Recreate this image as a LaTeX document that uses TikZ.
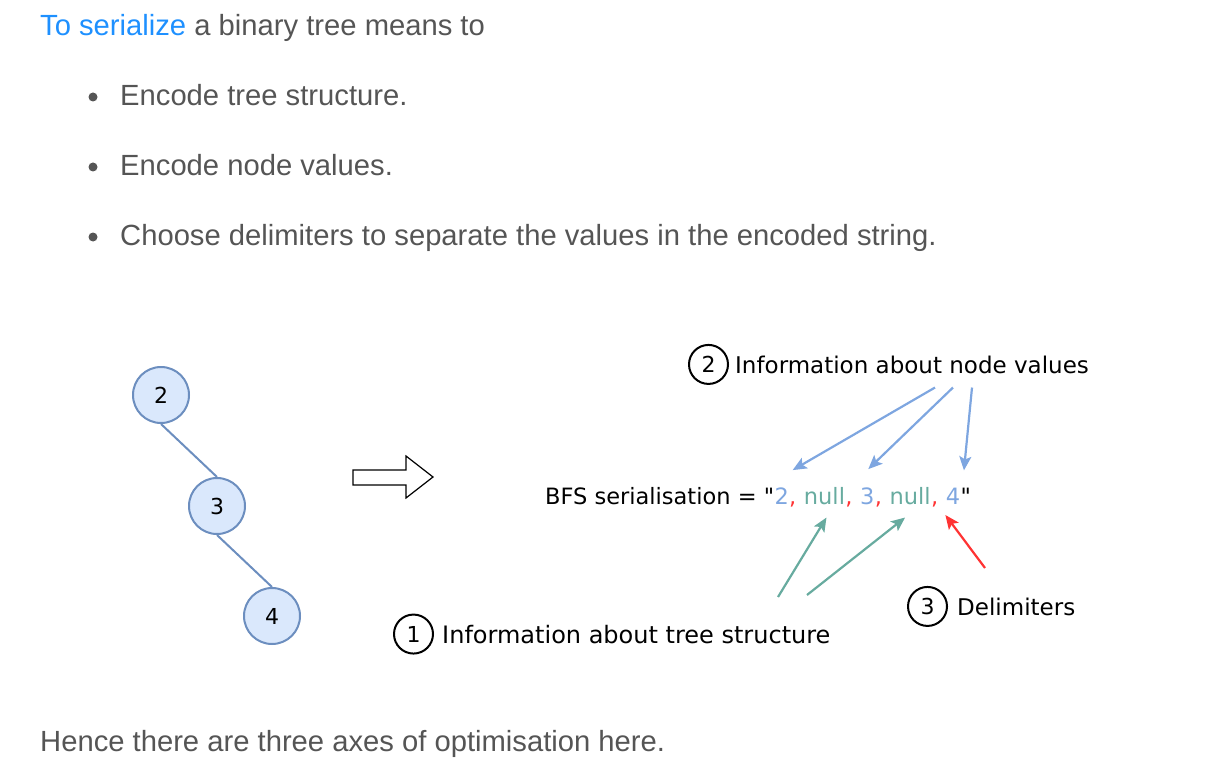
\documentclass[tikz,border=0pt]{standalone}
\usepackage{fontspec}
\setmainfont{Liberation Sans}
\newfontfamily\handfont{DejaVu Sans}
\usetikzlibrary{arrows.meta,calc,positioning}
\definecolor{txtgray}{HTML}{555555}
\definecolor{linkblue}{HTML}{1E90FF}
\definecolor{nodefill}{HTML}{DAE8FC}
\definecolor{nodeline}{HTML}{6C8EBF}
\definecolor{valblue}{HTML}{7EA6E0}
\definecolor{strgreen}{HTML}{67AB9F}
\definecolor{delimred}{HTML}{FF3333}

\begin{document}
\begin{tikzpicture}[x=1pt, y=-1pt,
    body/.style={inner sep=0pt, anchor=base west, text=txtgray, font=\fontsize{29.2}{35}\selectfont},
    dot/.style={circle, fill=txtgray, inner sep=0pt, minimum size=9pt},
    tnode/.style={circle, draw=nodeline, fill=nodefill, line width=2pt, minimum size=56pt, inner sep=0pt, font=\handfont\fontsize{22}{26}\selectfont},
    tedge/.style={draw=nodeline, line width=2pt},
    lbl/.style={inner sep=0pt, font=\handfont\fontsize{22.5}{27}\selectfont},
    tok/.style={lbl, anchor=base west},
    infotext/.style={tok, font=\handfont\fontsize{23}{28}\selectfont},
    num/.style={circle, draw, line width=2pt, minimum size=39pt, inner sep=0pt, font=\handfont\fontsize{22}{26}\selectfont},
    arr/.style={line width=2.2pt, -{Stealth[length=14pt, width=12pt, inset=3pt]}}]
    \useasboundingbox (0,0) rectangle (1212,762);

    \node[body] (intro) at (40,35.5) {\textcolor{linkblue}{To serialize} a binary tree means to};
    \node[dot] (b1) at (93,97) {};
    \node[body] (e1) at (120,105.5) {Encode tree structure.};
    \node[dot] (b2) at (93,167) {};
    \node[body] (e2) at (120,175.5) {Encode node values.};
    \node[dot] (b3) at (93,237) {};
    \node[body] (e3) at (120,245.5) {Choose delimiters to separate the values in the encoded string.};
    \node[body] (hence) at (40,751.5) {Hence there are three axes of optimisation here.};

    \node[tnode] (t2) at (161,395) {2};
    \node[tnode] (t3) at (217,506) {3};
    \node[tnode] (t4) at (272,616) {4};
    \draw[tedge] (t2.south) -- (t3.north);
    \draw[tedge] (t3.south) -- (t4.north);

    \draw[line width=1.2pt, fill=white] (353,470) -- (406,470) -- (406,456) -- (433,477)
        -- (406,498) -- (406,485) -- (353,485) -- cycle;

    \node[tok] (bfs) at (545,504) {BFS serialisation = "};
    \node[tok, text=valblue] (v2) at (bfs.base east) {2};
    \node[tok, text=delimred] (d1) at (v2.base east) {,};
    \node[tok, text=strgreen, xshift=7.2pt] (n1) at (d1.base east) {null};
    \node[tok, text=delimred] (d2) at (n1.base east) {,};
    \node[tok, text=valblue, xshift=7.2pt] (v3) at (d2.base east) {3};
    \node[tok, text=delimred] (d3) at (v3.base east) {,};
    \node[tok, text=strgreen, xshift=7.2pt] (n2) at (d3.base east) {null};
    \node[tok, text=delimred] (d4) at (n2.base east) {,};
    \node[tok, text=valblue, xshift=7.2pt] (v4) at (d4.base east) {4};
    \node[tok] (qe) at (v4.base east) {"};

    \node[infotext] (vals) at (735,373) {Information about node values};
    \node[num, left=6pt of vals] (c2) {2};
    \node[infotext, font=\handfont\fontsize{24}{29}\selectfont] (struct) at (442,643) {Information about tree structure};
    \node[num, left=8pt of struct] (c1) {1};
    \node[infotext] (delim) at (957,615) {Delimiters};
    \node[num, left=9pt of delim] (c3) {3};

    \draw[arr, valblue] ($(vals.south west)+(200,14)$) -- ($(v2.north)+(11,-17)$);
    \draw[arr, valblue] ($(vals.south west)+(218,14)$) -- ($(v3.north)+(1,-18)$);
    \draw[arr, valblue] ($(vals.south west)+(237,14)$) -- ($(v4.north)+(11,-17)$);
    \draw[arr, strgreen] ($(struct.base west)+(336,-46)$) -- ($(n1.south)+(2,13)$);
    \draw[arr, strgreen] ($(struct.base west)+(365,-48)$) -- ($(n2.south)+(-5,13)$);
    \draw[arr, delimred] ($(delim.base west)+(28,-47)$) -- ($(d4.base east)+(7,11)$);
\end{tikzpicture}
\end{document}
